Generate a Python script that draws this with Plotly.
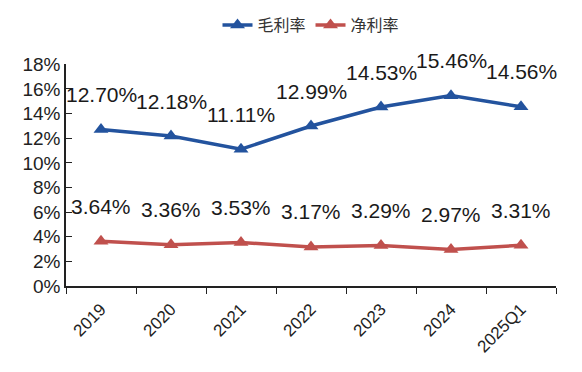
import plotly.graph_objects as go

categories = ["2019", "2020", "2021", "2022", "2023", "2024", "2025Q1"]
gross_margin = [12.70, 12.18, 11.11, 12.99, 14.53, 15.46, 14.56]
net_margin = [3.64, 3.36, 3.53, 3.17, 3.29, 2.97, 3.31]
series_names = ["毛利率", "净利率"]
y_ticks = [0, 2, 4, 6, 8, 10, 12, 14, 16, 18]

blue = "#23539E"
red = "#C0504D"
xpos = list(range(len(categories)))

fig = go.Figure()
for name, vals, col in [(series_names[0], gross_margin, blue), (series_names[1], net_margin, red)]:
    fig.add_trace(go.Scatter(
        x=xpos, y=vals, name=name, mode="lines+markers",
        line=dict(color=col, width=3.5),
        marker=dict(symbol="triangle-up", size=13, color=col),
    ))
    for xi, v in zip(xpos, vals):
        fig.add_annotation(x=xi, y=v, text=f"{v:.2f}%", showarrow=False,
                           yshift=35, font=dict(size=21, color="#1a1a1a",
                                                family="Liberation Sans, Arial, sans-serif"))

fig.update_layout(
    width=582, height=372,
    margin=dict(l=58, r=34, t=53, b=94),
    paper_bgcolor="white", plot_bgcolor="white",
    showlegend=True,
    legend=dict(orientation="h", x=0.5, xanchor="center", y=1.0, yanchor="top",
                yref="container", font=dict(size=16, color="#333333",
                family="Noto Sans CJK SC, sans-serif"),
                traceorder="normal"),
    font=dict(family="Liberation Sans, Arial, sans-serif", color="#222222"),
)
fig.update_xaxes(range=[-0.5, len(categories) - 0.5], tickvals=xpos, ticktext=categories,
                 showline=True, linecolor="#222222", linewidth=1.5,
                 ticks="", tickangle=-45, tickfont=dict(size=17, color="#222222"),
                 ticklabelstandoff=5,
                 minor=dict(tick0=-0.5, dtick=1, ticks="outside", ticklen=6,
                            tickcolor="#222222", showgrid=False),
                 showgrid=False, zeroline=False)
fig.update_yaxes(range=[0, 18], tickvals=y_ticks, ticktext=[f"{t}%" for t in y_ticks],
                 showline=True, linecolor="#222222", linewidth=1.5,
                 ticks="inside", ticklen=6, tickcolor="#222222",
                 tickfont=dict(size=19, color="#222222"),
                 showgrid=False, zeroline=False)

fig.write_html("out.html")
